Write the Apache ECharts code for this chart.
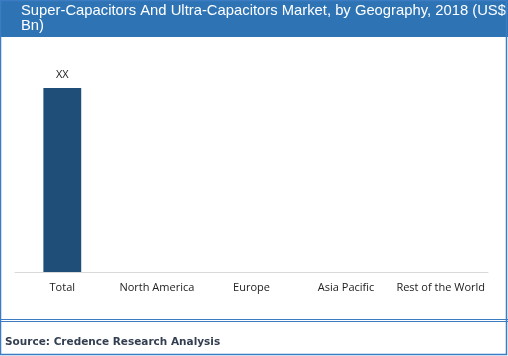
<!DOCTYPE html>
<html><head><meta charset="utf-8">
<script src="https://cdn.jsdelivr.net/npm/echarts@6/dist/echarts.min.js"></script>
<style>html,body{margin:0;padding:0;background:#fff}#c{width:508px;height:356px}</style>
</head><body><div id="c"></div>
<script>
const categories = ["Total", "North America", "Europe", "Asia Pacific", "Rest of the World"];
const values = [100, null, null, null, null];
const barLabels = ["XX", "", "", "", ""];
const titleText = "Super-Capacitors And Ultra-Capacitors Market, by Geography, 2018 (US$\nBn)";
const sourceText = "Source: Credence Research Analysis";

const chart = echarts.init(document.getElementById('c'), null, {renderer: 'canvas'});
chart.setOption({
  animation: false,
  backgroundColor: '#ffffff',
  grid: {left: 15, right: 20, top: 88, bottom: 84, containLabel: false},
  xAxis: {
    type: 'category', data: categories,
    axisLine: {lineStyle: {color: '#d9d9d9', width: 1}},
    axisTick: {show: false},
    axisLabel: {interval: 0, color: '#222', fontFamily: 'Open Sans', fontSize: 11, margin: 10}
  },
  yAxis: {type: 'value', min: 0, max: 100, show: false, splitLine: {show: false}},
  series: [{
    type: 'bar', data: values, barWidth: '40%',
    itemStyle: {color: '#1F4E79'},
    label: {show: true, position: 'top', distance: 8, color: '#222', fontFamily: 'Open Sans', fontSize: 11,
      formatter: p => barLabels[p.dataIndex]}
  }],
  graphic: [
    {type: 'rect', shape: {x: 0, y: 0, width: 508, height: 37}, style: {fill: '#2E74B5'}, silent: true},
    {type: 'text', left: 21, top: 3, style: {text: titleText, fill: '#ffffff', font: '14.8px "Liberation Sans", Arial', lineHeight: 15}},
    {type: 'rect', shape: {x: 0.5, y: 0.5, width: 506, height: 354}, style: {fill: null, stroke: '#3B7CC2', lineWidth: 1.5}, silent: true},
    {type: 'line', shape: {x1: 0, y1: 319.5, x2: 508, y2: 319.5}, style: {stroke: '#3B7CC2', lineWidth: 1}},
    {type: 'line', shape: {x1: 0, y1: 321.5, x2: 508, y2: 321.5}, style: {stroke: '#3B7CC2', lineWidth: 1}},
    {type: 'text', left: 5, top: 337, style: {text: sourceText, fill: '#333F50', font: 'bold 10.5px "DejaVu Sans"'}}
  ]
});
</script></body></html>
